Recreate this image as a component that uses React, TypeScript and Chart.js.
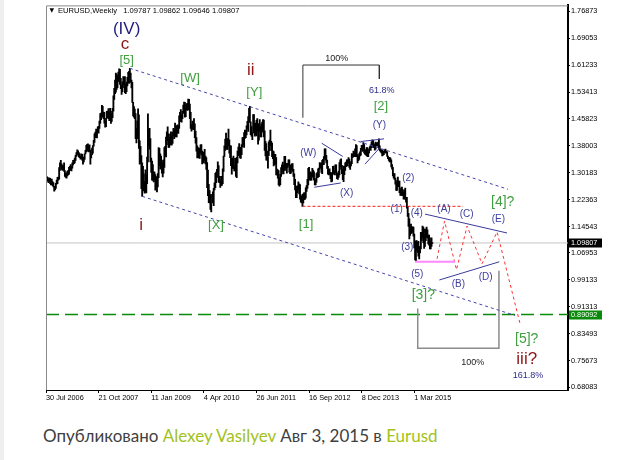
import React, { useEffect, useRef } from "react";
import { Chart, registerables } from "chart.js";

Chart.register(...registerables);

// ---------- axis ticks ----------
const xTickIdx = [0, 64, 128, 192, 256, 320, 384, 448];
const xTickLabels = ["30 Jul 2006", "21 Oct 2007", "11 Jan 2009", "4 Apr 2010", "26 Jun 2011", "16 Sep 2012", "8 Dec 2013", "1 Mar 2015"];
const yTickValues = [1.76873, 1.69053, 1.61233, 1.53413, 1.45823, 1.38003, 1.30183, 1.22363, 1.14543, 1.06953, 0.99133, 0.91313, 0.83493, 0.75673, 0.68083];

// ---------- header ----------
const symbol = "EURUSD";
const period = "Weekly";
const lastOpen = 1.09787;
const lastHigh = 1.09862;
const lastLow = 1.09646;
const lastClose = 1.09807;
const targetLevel = 0.89092;

// ---------- weekly bars (one entry per week, starting week of 30 Jul 2006) ----------
const low2006 = [1.2740, 1.2780, 1.2770, 1.2730, 1.2760, 1.2700, 1.2660, 1.2680, 1.2640, 1.2600, 1.2480, 1.2520, 1.2560, 1.2680, 1.2700, 1.2800, 1.2830, 1.3080, 1.3200, 1.3110, 1.3080, 1.3100, 1.3050];
const high2006 = [1.2860, 1.2900, 1.2880, 1.2840, 1.2870, 1.2850, 1.2780, 1.2830, 1.2760, 1.2730, 1.2620, 1.2620, 1.2710, 1.2800, 1.2880, 1.2890, 1.3160, 1.3300, 1.3370, 1.3270, 1.3220, 1.3220, 1.3300];

const low2007 = [1.2910, 1.2880, 1.2860, 1.2920, 1.2950, 1.2970, 1.3080, 1.3090, 1.3070, 1.3150, 1.3240, 1.3280, 1.3300, 1.3370, 1.3490, 1.3560, 1.3520, 1.3470, 1.3450, 1.3410, 1.3420, 1.3380, 1.3260, 1.3330, 1.3400, 1.3560, 1.3620, 1.3770, 1.3640, 1.3620, 1.3630, 1.3260, 1.3440, 1.3540, 1.3580, 1.3780, 1.3890, 1.4030, 1.4090, 1.4020, 1.4180, 1.4160, 1.4300, 1.4440, 1.4550, 1.4700, 1.4620, 1.4580, 1.4450, 1.4330, 1.4350, 1.4600];
const high2007 = [1.3080, 1.2990, 1.3010, 1.3060, 1.3080, 1.3170, 1.3200, 1.3250, 1.3200, 1.3300, 1.3370, 1.3380, 1.3440, 1.3520, 1.3600, 1.3680, 1.3650, 1.3600, 1.3560, 1.3500, 1.3560, 1.3550, 1.3400, 1.3470, 1.3560, 1.3660, 1.3810, 1.3840, 1.3850, 1.3800, 1.3820, 1.3670, 1.3530, 1.3730, 1.3800, 1.3950, 1.4140, 1.4190, 1.4280, 1.4190, 1.4340, 1.4360, 1.4510, 1.4730, 1.4740, 1.4967, 1.4940, 1.4770, 1.4760, 1.4500, 1.4590, 1.4790];

const low2008 = [1.4600, 1.4580, 1.4520, 1.4640, 1.4440, 1.4500, 1.4610, 1.4800, 1.5140, 1.5300, 1.5350, 1.5430, 1.5480, 1.5650, 1.5740, 1.5570, 1.5450, 1.5285, 1.5360, 1.5560, 1.5480, 1.5330, 1.5300, 1.5360, 1.5530, 1.5640, 1.5600, 1.5790, 1.5630, 1.5470, 1.5050, 1.4660, 1.4620, 1.4580, 1.4000, 1.3880, 1.4000, 1.4470, 1.3720, 1.3260, 1.3290, 1.2550, 1.2330, 1.2570, 1.2490, 1.2420, 1.2450, 1.2430, 1.2700, 1.3330, 1.3800, 1.3700];
const high2008 = [1.4800, 1.4870, 1.4780, 1.4880, 1.4790, 1.4720, 1.4880, 1.5240, 1.5460, 1.5700, 1.5900, 1.5870, 1.5820, 1.5930, 1.6020, 1.6010, 1.5750, 1.5550, 1.5650, 1.5800, 1.5780, 1.5800, 1.5580, 1.5640, 1.5780, 1.5920, 1.5950, 1.6038, 1.5900, 1.5700, 1.5630, 1.5050, 1.4930, 1.4860, 1.4730, 1.4290, 1.4520, 1.4867, 1.4690, 1.3940, 1.3780, 1.3510, 1.3300, 1.3200, 1.2980, 1.2760, 1.3100, 1.2950, 1.3470, 1.4720, 1.4260, 1.4300];

const low2009 = [1.3330, 1.3020, 1.2800, 1.2800, 1.2750, 1.2800, 1.2510, 1.2650, 1.2457, 1.2600, 1.2870, 1.3220, 1.3120, 1.3130, 1.3000, 1.2890, 1.3000, 1.3170, 1.3520, 1.3470, 1.3830, 1.3940, 1.3750, 1.3750, 1.3820, 1.3930, 1.3810, 1.3860, 1.4080, 1.4000, 1.4130, 1.4050, 1.4050, 1.4170, 1.4150, 1.4300, 1.4490, 1.4590, 1.4480, 1.4580, 1.4730, 1.4880, 1.4620, 1.4640, 1.4840, 1.4820, 1.4830, 1.4980, 1.4580, 1.4300, 1.4220, 1.4280];
const high2009 = [1.4000, 1.3440, 1.3350, 1.3250, 1.3040, 1.3030, 1.2960, 1.2900, 1.2750, 1.2990, 1.3740, 1.3720, 1.3560, 1.3500, 1.3370, 1.3300, 1.3390, 1.3740, 1.3780, 1.4050, 1.4200, 1.4340, 1.4140, 1.4040, 1.4130, 1.4200, 1.4080, 1.4190, 1.4300, 1.4260, 1.4450, 1.4330, 1.4380, 1.4400, 1.4380, 1.4660, 1.4760, 1.4840, 1.4690, 1.4790, 1.4970, 1.5060, 1.5050, 1.4950, 1.5020, 1.5020, 1.5145, 1.5140, 1.5000, 1.4760, 1.4410, 1.4510];

const low2010 = [1.4260, 1.4330, 1.4030, 1.3870, 1.3640, 1.3440, 1.3450, 1.3440, 1.3430, 1.3580, 1.3530, 1.3270, 1.3330, 1.3300, 1.3370, 1.3270, 1.3110, 1.2580, 1.2350, 1.2150, 1.2140, 1.1950, 1.1877, 1.2140, 1.2150, 1.2060, 1.2520, 1.2580, 1.2730, 1.2880, 1.3040, 1.2740, 1.2730, 1.2590, 1.2650, 1.2650, 1.2700, 1.3050, 1.3490, 1.3660, 1.3860, 1.3690, 1.3690, 1.3800, 1.3580, 1.3450, 1.3220, 1.2970, 1.3150, 1.3130, 1.3070, 1.3070];
const high2010 = [1.4450, 1.4580, 1.4430, 1.4220, 1.4030, 1.3790, 1.3740, 1.3690, 1.3730, 1.3820, 1.3830, 1.3640, 1.3580, 1.3610, 1.3690, 1.3500, 1.3450, 1.3310, 1.3090, 1.2680, 1.2500, 1.2380, 1.2120, 1.2390, 1.2460, 1.2560, 1.2720, 1.3000, 1.3030, 1.3110, 1.3330, 1.3220, 1.2910, 1.2780, 1.2910, 1.2820, 1.3130, 1.3500, 1.3790, 1.3990, 1.4160, 1.4000, 1.4000, 1.4280, 1.3970, 1.3790, 1.3790, 1.3420, 1.3440, 1.3500, 1.3220, 1.3430];

const low2011 = [1.2910, 1.2870, 1.3300, 1.3510, 1.3530, 1.3440, 1.3430, 1.3540, 1.3760, 1.3830, 1.3750, 1.4010, 1.4030, 1.4110, 1.4290, 1.4210, 1.4540, 1.4470, 1.4120, 1.4070, 1.3970, 1.4170, 1.4380, 1.4070, 1.4120, 1.4080, 1.4220, 1.3840, 1.3960, 1.4220, 1.4050, 1.4050, 1.4200, 1.4190, 1.4050, 1.3660, 1.3500, 1.3380, 1.3380, 1.3145, 1.3510, 1.3650, 1.3800, 1.3660, 1.3480, 1.3420, 1.3210, 1.3250, 1.3260, 1.2950, 1.2950, 1.2860];
const high2011 = [1.3430, 1.3460, 1.3640, 1.3760, 1.3860, 1.3750, 1.3710, 1.3830, 1.4030, 1.4040, 1.4180, 1.4250, 1.4240, 1.4370, 1.4500, 1.4640, 1.4880, 1.4940, 1.4490, 1.4350, 1.4170, 1.4700, 1.4700, 1.4440, 1.4450, 1.4530, 1.4580, 1.4280, 1.4440, 1.4550, 1.4350, 1.4430, 1.4480, 1.4550, 1.4540, 1.4230, 1.3920, 1.3860, 1.3640, 1.3480, 1.3910, 1.3960, 1.4250, 1.3920, 1.3870, 1.3650, 1.3630, 1.3550, 1.3550, 1.3450, 1.3120, 1.3100];

const low2012 = [1.2660, 1.2625, 1.2670, 1.2910, 1.2980, 1.3070, 1.2980, 1.3080, 1.3150, 1.3080, 1.3000, 1.3170, 1.3210, 1.3030, 1.2990, 1.3000, 1.3110, 1.3050, 1.2910, 1.2670, 1.2520, 1.2290, 1.2290, 1.2440, 1.2520, 1.2400, 1.2250, 1.2160, 1.2140, 1.2042, 1.2140, 1.2240, 1.2240, 1.2280, 1.2470, 1.2560, 1.2660, 1.2940, 1.2800, 1.2800, 1.2800, 1.2910, 1.2880, 1.2800, 1.2660, 1.2660, 1.2740, 1.2880, 1.2880, 1.2900, 1.3120, 1.3160, 1.3020];
const high2012 = [1.3080, 1.2880, 1.2970, 1.3160, 1.3240, 1.3320, 1.3240, 1.3490, 1.3490, 1.3290, 1.3240, 1.3290, 1.3390, 1.3390, 1.3210, 1.3240, 1.3270, 1.3280, 1.3110, 1.2980, 1.2820, 1.2570, 1.2620, 1.2640, 1.2750, 1.2690, 1.2670, 1.2350, 1.2330, 1.2390, 1.2400, 1.2440, 1.2390, 1.2580, 1.2640, 1.2820, 1.3140, 1.3170, 1.3000, 1.3040, 1.3000, 1.3140, 1.3090, 1.3040, 1.2850, 1.2800, 1.2990, 1.3020, 1.3130, 1.3150, 1.3310, 1.3280, 1.3300];

const low2013 = [1.2990, 1.3260, 1.3250, 1.3420, 1.3380, 1.3300, 1.3140, 1.2970, 1.2950, 1.2960, 1.2840, 1.2750, 1.2760, 1.2970, 1.2990, 1.2950, 1.3020, 1.2950, 1.2840, 1.2820, 1.2880, 1.2950, 1.3190, 1.3110, 1.2990, 1.2810, 1.2755, 1.2960, 1.3080, 1.3190, 1.3210, 1.3210, 1.3300, 1.3170, 1.3110, 1.3210, 1.3280, 1.3450, 1.3490, 1.3480, 1.3480, 1.3670, 1.3480, 1.3300, 1.3360, 1.3400, 1.3500, 1.3520, 1.3690, 1.3630, 1.3660, 1.3590];
const high2013 = [1.3370, 1.3400, 1.3480, 1.3710, 1.3710, 1.3520, 1.3380, 1.3200, 1.3110, 1.3130, 1.3020, 1.3020, 1.3000, 1.3200, 1.3210, 1.3080, 1.3240, 1.3240, 1.3010, 1.3000, 1.3060, 1.3310, 1.3390, 1.3420, 1.3230, 1.3100, 1.3210, 1.3200, 1.3300, 1.3320, 1.3390, 1.3390, 1.3450, 1.3410, 1.3260, 1.3340, 1.3570, 1.3550, 1.3640, 1.3600, 1.3710, 1.3830, 1.3800, 1.3540, 1.3500, 1.3570, 1.3620, 1.3720, 1.3810, 1.3810, 1.3890, 1.3830];

const low2014 = [1.3550, 1.3530, 1.3510, 1.3480, 1.3480, 1.3590, 1.3690, 1.3660, 1.3740, 1.3820, 1.3750, 1.3740, 1.3670, 1.3700, 1.3800, 1.3790, 1.3780, 1.3700, 1.3650, 1.3620, 1.3590, 1.3500, 1.3520, 1.3540, 1.3600, 1.3590, 1.3580, 1.3490, 1.3420, 1.3370, 1.3330, 1.3330, 1.3180, 1.3120, 1.2920, 1.2860, 1.2820, 1.2680, 1.2500, 1.2500, 1.2620, 1.2610, 1.2440, 1.2360, 1.2360, 1.2360, 1.2360, 1.2250, 1.2260, 1.2240, 1.2160, 1.1990];
const high2014 = [1.3680, 1.3680, 1.3740, 1.3740, 1.3620, 1.3710, 1.3770, 1.3820, 1.3910, 1.3965, 1.3950, 1.3860, 1.3810, 1.3900, 1.3880, 1.3870, 1.3900, 1.3993, 1.3790, 1.3700, 1.3680, 1.3670, 1.3600, 1.3640, 1.3680, 1.3700, 1.3640, 1.3620, 1.3500, 1.3450, 1.3460, 1.3440, 1.3390, 1.3250, 1.3170, 1.2990, 1.2990, 1.2860, 1.2680, 1.2790, 1.2890, 1.2770, 1.2770, 1.2530, 1.2580, 1.2600, 1.2530, 1.2460, 1.2510, 1.2570, 1.2300, 1.2300];

const low2015 = [1.1750, 1.1460, 1.1100, 1.1200, 1.1270, 1.1260, 1.1320, 1.1180, 1.0840, 1.0490, 1.0462, 1.0770, 1.0710, 1.0600, 1.0520, 1.0690, 1.0810, 1.1050, 1.1120, 1.0990, 1.0820, 1.0880, 1.1050, 1.1140, 1.1130, 1.0955, 1.0920, 1.0810, 1.0810, 1.0880, 1.09646];
const high2015 = [1.2040, 1.1840, 1.1680, 1.1420, 1.1530, 1.1450, 1.1450, 1.1440, 1.1240, 1.0870, 1.1040, 1.1050, 1.1000, 1.1030, 1.0850, 1.0880, 1.1290, 1.1290, 1.1467, 1.1440, 1.1020, 1.1380, 1.1380, 1.1440, 1.1360, 1.1210, 1.1210, 1.1130, 1.1010, 1.1130, 1.09862];

const weeklyLow = [...low2006, ...low2007, ...low2008, ...low2009, ...low2010, ...low2011, ...low2012, ...low2013, ...low2014, ...low2015];
const weeklyHigh = [...high2006, ...high2007, ...high2008, ...high2009, ...high2010, ...high2011, ...high2012, ...high2013, ...high2014, ...high2015];

// ---------- drawn objects, in (week index, price) ----------
const upperChannel = [[102, 1.6038], [562, 1.2536]];
const lowerChannel = [[117, 1.2330], [570.6, 0.8882]];
const wave1Level = [[312, 1.2042], [507, 1.2042]];
const wave5Level = [[449, 1.0440], [497.6, 1.0440]];
const projection = [[475.7, 1.0522], [484.8, 1.1615], [499.4, 1.0205], [512.2, 1.1471], [530.4, 1.0378], [548.7, 1.1298], [576.6, 0.8651]];
const triangleTop = [[461.1, 1.1817], [560.8, 1.1270]];
const triangleBottom = [[478.5, 0.9909], [551.5, 1.0436]];
const lineW = [[335.4, 1.3869], [361, 1.3486]];
const lineX = [[326.4, 1.2594], [358.5, 1.2718]];
const lineY = [[382.8, 1.3918], [411.2, 1.3995]];
const lineYb = [[388.1, 1.3264], [406.3, 1.3745]];
const fiboTop = [[312.5, 1.4608], [312.5, 1.6133], [405.5, 1.6133], [405.5, 1.5730]];
const fiboBottom = [[452.2, 0.9083], [452.2, 0.7932], [551, 0.7932], [551, 1.0176]];
const X_MAX = 635;

// [text, week index, price, style]
const waveLabels: [string, number, number, string][] = [
  ["(IV)", 98.1, 1.7178, "major"],
  ["c", 96.1, 1.6746, "red"],
  ["[5]", 98.2, 1.6269, "green"],
  ["[W]", 175.2, 1.5739, "green"],
  ["ii", 249.0, 1.5981, "red"],
  ["[Y]", 253.4, 1.5336, "green"],
  ["i", 115.6, 1.1500, "red"],
  ["[X]", 206.8, 1.1500, "green"],
  ["[1]", 316.3, 1.1529, "green"],
  ["[2]", 407.5, 1.4925, "green"],
  ["(W)", 319.1, 1.3581, "blue"],
  ["(X)", 365.8, 1.2430, "blue"],
  ["(Y)", 405.5, 1.4398, "blue"],
  ["(1)", 426.6, 1.1969, "blue"],
  ["(2)", 440.7, 1.2861, "blue"],
  ["(3)", 439.5, 1.0847, "blue"],
  ["(4)", 451.0, 1.1854, "blue"],
  ["(5)", 451.7, 1.0081, "blue"],
  ["(A)", 484.2, 1.1969, "blue"],
  ["(B)", 501.6, 0.9774, "blue"],
  ["(C)", 511.8, 1.1826, "blue"],
  ["(D)", 534.9, 0.9984, "blue"],
  ["(E)", 550.2, 1.1664, "blue"],
  ["[3]?", 459.0, 0.9457, "greenQ"],
  ["[4]?", 555.6, 1.2171, "greenQ"],
  ["[5]?", 584.8, 0.8191, "greenQ"],
  ["iii?", 584.8, 0.7607, "red"],
  ["100%", 353.6, 1.6315, "pct"],
  ["61.8%", 408.4, 1.5405, "pctBlue"],
  ["100%", 519.1, 0.7520, "pct"],
  ["161.8%", 586.4, 0.7135, "pctBlue"],
];

const labelStyles: Record<string, { size: number; color: string }> = {
  major: { size: 17, color: "#1e1e7c" },
  red: { size: 17, color: "#8e1414" },
  green: { size: 13, color: "#3f9f3f" },
  greenQ: { size: 14, color: "#3f9f3f" },
  blue: { size: 10, color: "#3d3d9e" },
  pct: { size: 9, color: "#222222" },
  pctBlue: { size: 9, color: "#2c2c8e" },
};

const MT_FONT = "'Liberation Sans', Arial, sans-serif";

function lineDs(pts: number[][], color: string, dash: number[], width = 1, order = 0) {
  return {
    type: "line" as const,
    data: pts.map(([x, y]) => ({ x, y })),
    borderColor: color,
    borderDash: dash,
    borderWidth: width,
    pointRadius: 0,
    fill: false,
    tension: 0,
    order,
  };
}

const overlayPlugin = {
  id: "mtOverlay",
  afterDraw(chart: any) {
    const { ctx, chartArea: a, scales } = chart;
    const xs = scales.x;
    const ys = scales.y;
    ctx.save();
    // frame (top + left)
    ctx.strokeStyle = "#8a8a8a";
    ctx.lineWidth = 1;
    ctx.beginPath();
    ctx.moveTo(a.left + 0.5, a.bottom);
    ctx.lineTo(a.left + 0.5, a.top + 0.5);
    ctx.lineTo(a.right, a.top + 0.5);
    ctx.stroke();

    // wave labels
    ctx.textAlign = "center";
    ctx.textBaseline = "middle";
    for (const [text, idx, price, kind] of waveLabels) {
      const st = labelStyles[kind];
      ctx.font = `${st.size}px ${MT_FONT}`;
      ctx.fillStyle = st.color;
      ctx.fillText(text, xs.getPixelForValue(idx), ys.getPixelForValue(price));
    }

    // header
    ctx.textAlign = "left";
    ctx.fillStyle = "#000";
    ctx.font = `6px 'DejaVu Sans', sans-serif`;
    ctx.fillText("▼", a.left + 3.5, a.top + 5.5);
    ctx.font = `7.6px ${MT_FONT}`;
    ctx.fillText(
      `${symbol},${period}   ${lastOpen.toFixed(5)} ${lastHigh.toFixed(5)} ${lastLow.toFixed(5)} ${lastClose.toFixed(5)}`,
      a.left + 12,
      a.top + 5.5
    );

    // price tags on the axis
    const tag = (v: number, bg: string) => {
      const py = ys.getPixelForValue(v);
      ctx.fillStyle = bg;
      ctx.fillRect(a.right + 1, Math.round(py) - 4.5, 33, 9);
      ctx.fillStyle = "#fff";
      ctx.font = `7.3px ${MT_FONT}`;
      ctx.textBaseline = "middle";
      ctx.fillText(v.toFixed(5), a.right + 3, py + 0.5);
    };
    tag(lastClose, "#000");
    tag(targetLevel, "#0a8a0a");
    ctx.restore();
  },
};

export default function App() {
  const ref = useRef<HTMLCanvasElement>(null);

  useEffect(() => {
    if (!ref.current) return;
    const bars = weeklyLow.map((l, i) => ({ x: i, y: [l, weeklyHigh[i]] }));
    const chart = new Chart(ref.current, {
      type: "bar",
      data: {
        datasets: [
          lineDs([[0, lastClose], [X_MAX, lastClose]], "#c4c4c4", [], 1, 20),
          lineDs([[0, targetLevel], [X_MAX, targetLevel]], "#0a8a0a", [13, 6], 1.4, 20),
          {
            type: "bar" as const,
            data: bars as any,
            backgroundColor: "#000",
            borderWidth: 0,
            barThickness: 1.2,
            minBarLength: 1,
            order: 10,
          },
          lineDs(upperChannel, "#4545ad", [3, 3]),
          lineDs(lowerChannel, "#4545ad", [3, 3]),
          lineDs(wave1Level, "#ff1a1a", [3, 2]),
          lineDs(wave5Level, "#ff88ff", [], 2),
          lineDs(projection, "#ff3030", [3, 3]),
          lineDs(triangleTop, "#3a3a9c", []),
          lineDs(triangleBottom, "#3a3a9c", []),
          lineDs(lineW, "#3a3a9c", []),
          lineDs(lineX, "#3a3a9c", []),
          lineDs(lineY, "#3a3a9c", []),
          lineDs(lineYb, "#3a3a9c", []),
          lineDs(fiboTop, "#333333", []),
          lineDs(fiboBottom, "#8c8c8c", [], 1.5),
        ] as any,
      },
      options: {
        responsive: false,
        animation: false,
        devicePixelRatio: 1,
        events: [],
        layout: { padding: { left: 46, top: 3, right: 0, bottom: 0 } },
        plugins: { legend: { display: false }, tooltip: { enabled: false } },
        scales: {
          x: {
            type: "linear",
            min: 0,
            max: X_MAX,
            offset: false,
            position: "bottom",
            grid: { display: true, drawOnChartArea: false, drawTicks: true, tickLength: 3, tickColor: "#000", offset: false },
            border: { display: true, color: "#000", width: 1 },
            ticks: {
              autoSkip: false,
              maxRotation: 0,
              minRotation: 0,
              align: "start",
              padding: 1,
              color: "#000",
              font: { family: MT_FONT, size: 7.3 },
              callback: (_v: any, i: number) => xTickLabels[i],
            },
            afterBuildTicks: (s: any) => {
              s.ticks = xTickIdx.map((v) => ({ value: v }));
            },
            afterFit: (s: any) => {
              s.height = 20;
            },
          },
          y: {
            type: "linear",
            position: "right",
            min: 0.67233,
            max: 1.786,
            grid: { display: true, drawOnChartArea: false, drawTicks: true, tickLength: 2, tickColor: "#000" },
            border: { display: true, color: "#000", width: 2 },
            ticks: {
              autoSkip: false,
              padding: 1,
              color: "#000",
              font: { family: MT_FONT, size: 7.3 },
              callback: (v: any) => Number(v).toFixed(5),
            },
            afterBuildTicks: (s: any) => {
              s.ticks = yTickValues.map((v) => ({ value: v }));
            },
            afterFit: (s: any) => {
              s.width = 52;
            },
          },
        },
      } as any,
      plugins: [overlayPlugin],
    });
    return () => chart.destroy();
  }, []);

  const link = { color: "#a2c21c" };
  return (
    <div style={{ position: "absolute", left: 0, top: 0, width: 620, height: 460, background: "#fff", overflow: "hidden" }}>
      <div style={{ position: "absolute", left: 0, top: 0, width: 4, height: 460, background: "#eeeeee" }} />
      <canvas ref={ref} width={620} height={410} style={{ position: "absolute", left: 0, top: 0, width: 620, height: 410 }} />
      <div
        style={{
          position: "absolute",
          left: 43,
          top: 425,
          fontFamily: "Lato, 'Open Sans', sans-serif",
          fontSize: 17,
          color: "#404040",
          whiteSpace: "nowrap",
          lineHeight: "22px",
        }}
      >
        Опубликовано <span style={link}>Alexey Vasilyev</span> Авг 3, 2015 в <span style={link}>Eurusd</span>
      </div>
    </div>
  );
}
